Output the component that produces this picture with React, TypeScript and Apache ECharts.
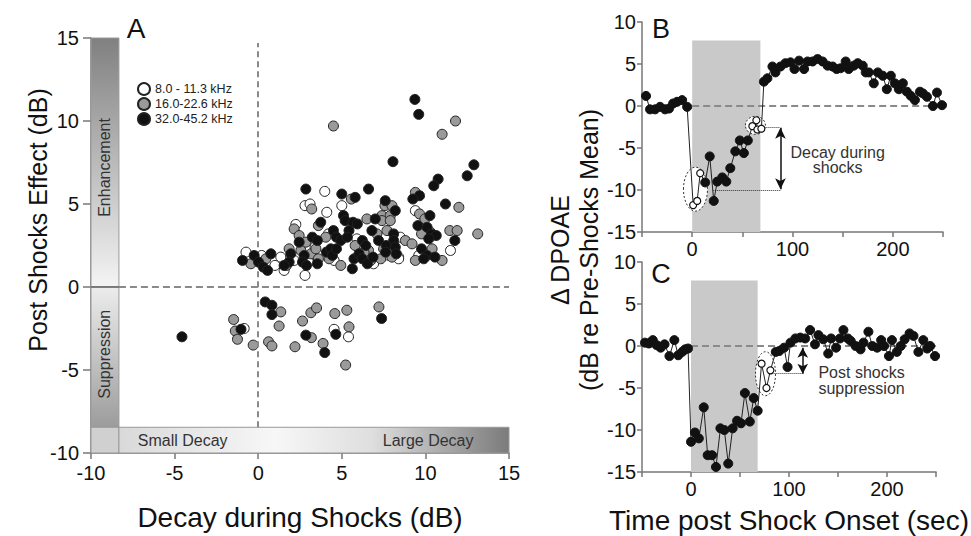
import React, { useEffect, useRef } from 'react';
import * as echarts from 'echarts';

const FONT = "'Liberation Sans', Arial, Helvetica, sans-serif";

// ---------- Panel A data: [decay during shocks (dB), post shocks effect (dB)] ----------
const legendNames = ['8.0 - 11.3 kHz', '16.0-22.6 kHz', '32.0-45.2 kHz'];

const aLow: number[][] = [
  [3.98, 5.76], [2.8, 4.9], [3.1, 5.0], [5.0, 4.9], [4.1, 4.5], [9.4, 4.6], [2.25, 3.77], [8.5, 3.0],
  [8.4, 1.8], [-0.73, 2.1], [1.35, 1.8], [1.55, 1.0], [2.15, 1.6], [3.0, 1.5], [2.8, 0.7], [4.54, 1.6],
  [7.82, 1.9], [8.4, 1.7], [0.2, 1.9], [1.0, 1.3], [3.4, 2.4], [5.9, 2.9], [6.9, 1.4], [9.6, 1.9],
  [10.3, 3.3], [11.5, 2.2], [4.2, 3.2], [-0.84, -2.5], [4.54, -2.55], [5.4, -3.0],
];

const aMid: number[][] = [
  [4.5, 9.7], [11.8, 10.0], [11.0, 9.2], [5.57, 5.3], [3.2, 4.7], [9.4, 5.7], [7.58, 4.9], [8.0, 4.9],
  [12.0, 4.8], [9.65, 4.4], [9.97, 4.1], [6.5, 4.1], [7.4, 4.3], [7.9, 4.3], [7.4, 4.0], [7.9, 4.0],
  [3.6, 3.7], [2.15, 3.5], [11.46, 3.4], [11.9, 3.4], [13.13, 3.2], [7.1, 3.2], [7.7, 3.4], [9.77, 3.2],
  [8.8, 2.8], [9.2, 2.6], [2.45, 3.1], [2.85, 2.7], [4.04, 3.0], [5.8, 2.5], [6.6, 2.2], [7.5, 2.3],
  [7.9, 2.2], [8.0, 1.8], [10.4, 2.3], [9.4, 1.6], [11.0, 1.6], [-0.44, 1.4], [0.46, 1.7], [1.85, 2.3],
  [1.69, 1.3], [2.55, 2.2], [3.15, 2.0], [3.45, 2.3], [3.6, 1.7], [4.24, 1.7], [4.94, 1.3], [6.33, 2.1],
  [6.73, 1.6], [7.33, 1.7], [-1.47, -1.96], [-1.37, -2.65], [-1.24, -3.15], [-0.3, -3.5], [1.35, -1.5],
  [1.25, -2.35], [0.62, -3.3], [0.82, -3.55], [2.2, -3.6], [2.65, -2.05], [3.15, -1.55], [3.49, -1.26],
  [3.18, -3.05], [3.88, -3.4], [4.58, -1.6], [5.3, -1.4], [5.43, -2.4], [5.23, -4.7], [7.22, -1.2],
];

const aHigh: number[][] = [
  [9.37, 11.3], [9.6, 10.4], [8.06, 7.55], [12.9, 7.36], [12.5, 6.7], [10.76, 6.5], [10.5, 6.1],
  [2.85, 5.9], [5.0, 5.6], [5.8, 5.4], [6.6, 5.9], [7.6, 5.2], [9.65, 5.5], [9.25, 5.3], [8.2, 4.6],
  [11.2, 5.0], [10.27, 4.3], [5.1, 4.3], [5.2, 4.0], [7.0, 4.1], [3.74, 3.9], [9.55, 3.7], [10.1, 3.6],
  [11.76, 2.8], [5.67, 3.9], [5.93, 3.8], [5.43, 3.4], [4.5, 3.4], [6.8, 3.4], [8.1, 3.2], [8.1, 2.8],
  [10.37, 3.2], [10.65, 3.1], [10.2, 2.9], [2.45, 2.7], [3.24, 3.0], [3.54, 2.8], [4.68, 3.0],
  [4.94, 2.8], [5.33, 3.0], [6.23, 2.8], [6.43, 2.5], [7.2, 2.8], [7.66, 2.5], [8.2, 2.4], [8.26, 2.0],
  [9.77, 2.3], [10.1, 1.9], [9.9, 1.7], [10.57, 1.8], [-0.94, 1.6], [-0.24, 1.9], [0.02, 1.5],
  [0.3, 1.2], [0.56, 1.0], [0.76, 2.0], [1.95, 2.0], [1.85, 1.5], [1.55, 1.3], [2.75, 1.9], [2.65, 1.5],
  [2.89, 1.3], [3.54, 1.4], [4.08, 2.1], [4.34, 2.3], [4.44, 1.9], [4.68, 2.3], [5.63, 1.1], [5.73, 1.7],
  [6.03, 2.0], [6.23, 1.7], [6.53, 1.4], [6.87, 1.8], [7.62, 2.1], [-4.56, -3.0], [-1.03, -2.55],
  [0.42, -0.9], [0.82, -1.1], [0.82, -1.66], [2.85, -2.9], [3.98, -3.95], [4.64, -2.85], [7.38, -1.9],
];

// ---------- Panel B data: [time (s), ΔDPOAE (dB)] ----------
const bPre: number[][] = [
  [-46, 1.2], [-42, -0.4], [-37, -0.4], [-32, -0.1], [-27, -0.4], [-23, -0.3], [-19, 0.3], [-15, 0.5],
  [-10, 0.7], [-5, -0.1],
];
const bOpenEarly: number[][] = [[1, -11.8], [5, -11.3], [8, -8.0]];
const bShock: number[][] = [
  [13, -9.1], [17.5, -6.0], [21.5, -11.3], [25, -9.0], [30, -8.5], [34, -9.0], [38, -7.4], [43, -5.4],
  [47.5, -4.1], [51.5, -5.6], [55.5, -4.1],
];
const bOpenLate: number[][] = [[60, -2.4], [64, -1.7], [65, -2.8], [69, -2.7]];
const bPost: number[][] = [
  [71.5, 2.9], [75, 3.3], [80, 4.7], [83, 4.0], [88, 4.7], [93, 5.1], [98, 5.2], [102, 4.4], [106.5, 5.4],
  [111.5, 4.4], [115, 5.3], [120, 5.3], [125, 5.6], [130, 5.3], [135, 4.8], [140, 4.7], [144, 4.4],
  [148, 4.5], [153, 5.3], [156, 4.4], [161, 4.8], [165, 5.1], [170, 4.8], [173, 4.0], [176, 4.0],
  [181, 2.7], [185, 4.0], [190, 3.6], [194, 2.0], [198, 3.6], [202, 2.7], [206, 2.0], [210, 2.7],
  [214, 1.7], [218, 1.2], [222, 0.7], [227, 1.7], [230, 1.5], [234, 1.1], [240, 0.0], [244, 1.6],
  [249, 0.1],
];

// ---------- Panel C data ----------
const cPre: number[][] = [
  [-47, 0.4], [-43, 0.3], [-39, 0.7], [-35, 0.1], [-31, -0.2], [-27, 0.2], [-22, -1.2], [-17, 0.7],
  [-13, -1.1], [-9, -0.7], [-6, -0.4], [-3, -0.3],
];
const cShock: number[][] = [
  [0, -11.4], [4, -10.3], [8, -11.0], [13, -7.3], [17, -13.0], [21.5, -13.0], [25.5, -14.4], [30, -9.8],
  [34, -10.0], [38, -14.0], [42.5, -9.8], [47, -8.9], [51, -9.2], [55, -5.6], [60, -9.0], [64, -6.2],
  [68, -7.7],
];
const cOpen: number[][] = [[72, -2.1], [77, -5.0], [81, -2.9]];
const cPost: number[][] = [
  [86.5, -0.7], [90, -0.6], [95, -0.2], [98.5, -2.5], [101.5, 0.4], [106.5, 0.9], [111.5, 1.0],
  [116.5, 0.9], [121.5, 1.9], [126.5, 0.2], [130, 1.3], [135, 0.8], [140, -0.9], [143, 0.9], [148, -0.2],
  [152, 0.9], [155.5, 1.9], [160, 0.9], [163, 0.6], [168, 0.0], [173, -0.4], [176, 0.4], [181, 1.7],
  [185, 0.0], [190, -0.2], [194, 0.7], [197, 0.0], [202, -1.2], [205, 0.7], [210, -0.7], [214, 0.0],
  [218, 0.8], [223, 1.5], [227, 1.2], [232, -0.7], [237, 0.7], [241, -0.3], [244, 0.0], [249, -1.2],
];

// shock period (s) and shaded extent (dB)
const shockStart = 0;
const shockEnd = 68;
const shadeTop = 7.8;

// tick labels
const timeLabels = [0, 100, 200];

const filledStyle = { color: '#111', borderColor: '#111', borderWidth: 1 };
const openStyle = { color: '#ffffff', borderColor: '#111', borderWidth: 1.2 };

function traceData(groups: [number[][], boolean][]) {
  const out: any[] = [];
  groups.forEach(([pts, open]) => {
    pts.forEach((p) => {
      out.push(open ? { value: p, itemStyle: openStyle, symbolSize: 7 } : { value: p });
    });
  });
  return out;
}

const axisLine = { onZero: false, lineStyle: { color: '#777', width: 1.5 } };
const axisLabel = (margin: number) => ({ color: '#111', fontSize: 20, fontFamily: FONT, margin });

function timeAxis(gridIndex: number, withName: boolean) {
  return {
    type: 'value', gridIndex, min: -50, max: 250, interval: 50,
    axisLine, splitLine: { show: false },
    axisTick: { length: 5, lineStyle: { color: '#777', width: 1.5 } },
    axisLabel: {
      ...axisLabel(7),
      formatter: (v: number) => (timeLabels.includes(v) ? String(v) : ''),
    },
    name: withName ? 'Time post Shock Onset (sec)' : '',
    nameLocation: 'middle', nameGap: 34,
    nameTextStyle: { color: '#111', fontSize: 28, fontFamily: FONT },
  };
}
function dpAxis(gridIndex: number) {
  return {
    type: 'value', gridIndex, min: -15, max: 10, interval: 5,
    axisLine, splitLine: { show: false },
    axisTick: { length: 5, lineStyle: { color: '#777', width: 1.5 } },
    axisLabel: axisLabel(6),
  };
}

const dashZero = { color: '#8a8a8a', width: 2, type: [7, 4] as any };

function shadeSeries(xi: number) {
  return {
    type: 'line', xAxisIndex: xi, yAxisIndex: xi, data: [], z: 1, silent: true,
    markArea: {
      silent: true,
      itemStyle: { color: '#c9c9c9' },
      data: [[{ coord: [shockStart, -15] }, { coord: [shockEnd, shadeTop] }]],
    },
  };
}
function zeroSeries(xi: number) {
  return {
    type: 'line', xAxisIndex: xi, yAxisIndex: xi, data: [], z: 2, silent: true,
    markLine: {
      silent: true, symbol: ['none', 'none'], label: { show: false },
      lineStyle: dashZero,
      data: [[{ coord: [shockStart, 0] }, { coord: [250, 0] }]],
    },
  };
}

const dotted = { color: '#333', width: 1, type: 'dotted' as any };
const arrowLine = { color: '#111', width: 1.5, type: 'solid' as any };

const option: any = {
  animation: false,
  textStyle: { fontFamily: FONT },
  grid: [
    { left: 91, top: 38, width: 418, height: 418 },
    { left: 642, top: 22, width: 301, height: 210 },
    { left: 642, top: 262, width: 301, height: 210 },
  ],
  legend: {
    data: legendNames, orient: 'vertical', left: 132, top: 77, itemGap: 1,
    itemWidth: 12, itemHeight: 12, icon: 'circle',
    textStyle: { fontSize: 12.5, fontFamily: FONT, color: '#222', lineHeight: 12 },
  },
  xAxis: [
    {
      type: 'value', gridIndex: 0, min: -10, max: 15, interval: 5,
      axisLine, splitLine: { show: false },
      axisTick: { length: 6, lineStyle: { color: '#777', width: 1.5 } },
      axisLabel: axisLabel(10),
      name: 'Decay during Shocks (dB)', nameLocation: 'middle', nameGap: 50,
      nameTextStyle: { color: '#111', fontSize: 28, fontFamily: FONT },
    },
    timeAxis(1, false),
    timeAxis(2, true),
  ],
  yAxis: [
    {
      type: 'value', gridIndex: 0, min: -10, max: 15, interval: 5,
      axisLine, splitLine: { show: false },
      axisTick: { length: 8, lineStyle: { color: '#777', width: 1.5 } },
      axisLabel: axisLabel(12),
    },
    dpAxis(1),
    dpAxis(2),
  ],
  series: [
    // Panel A decorations
    {
      type: 'line', xAxisIndex: 0, yAxisIndex: 0, data: [], z: 1, silent: true,
      markArea: {
        silent: true,
        data: [
          [{ coord: [-10, 0], itemStyle: { color: new echarts.graphic.LinearGradient(0, 0, 0, 1, [
            { offset: 0, color: '#808080' }, { offset: 1, color: '#f4f4f4' }]), borderColor: '#999', borderWidth: 1 } },
            { coord: [-8.33, 15] }],
          [{ coord: [-10, -8.45], itemStyle: { color: new echarts.graphic.LinearGradient(0, 0, 0, 1, [
            { offset: 0, color: '#ececec' }, { offset: 1, color: '#9c9c9c' }]), borderColor: '#999', borderWidth: 1 } },
            { coord: [-8.33, 0] }],
          [{ coord: [-10, -10], itemStyle: { color: '#d0d0d0', borderColor: '#999', borderWidth: 1 } },
            { coord: [-8.33, -8.45] }],
          [{ coord: [-8.33, -10], itemStyle: { color: new echarts.graphic.LinearGradient(0, 0, 1, 0, [
            { offset: 0, color: '#d9d9d9' }, { offset: 0.4, color: '#f7f7f7' },
            { offset: 0.65, color: '#dedede' }, { offset: 1, color: '#7b7b7b' }]), borderColor: '#999', borderWidth: 1 } },
            { coord: [15, -8.45] }],
        ],
      },
      markLine: {
        silent: true, symbol: ['none', 'none'], label: { show: false },
        data: [
          [{ coord: [0, -8.45], lineStyle: { color: '#8a8a8a', width: 2, type: [6, 4] } }, { coord: [0, 14.7] }],
          [{ coord: [-8.33, 0], lineStyle: { color: '#8a8a8a', width: 2, type: [7, 4] } }, { coord: [15, 0] }],
          [{ coord: [-10, 0], lineStyle: { color: '#666', width: 1.5, type: 'solid' } }, { coord: [-8.33, 0] }],
        ],
      },
    },
    ...[aLow, aMid, aHigh].map((d, i) => ({
      name: legendNames[i], type: 'scatter', xAxisIndex: 0, yAxisIndex: 0, z: 3 + i,
      symbol: 'circle', symbolSize: 10, data: d,
      itemStyle: { color: ['#ffffff', '#9a9a9a', '#111111'][i], borderColor: '#222', borderWidth: 1, opacity: 1 },
    })),
    // Panel B
    shadeSeries(1),
    zeroSeries(1),
    {
      type: 'line', xAxisIndex: 1, yAxisIndex: 1, z: 5, symbol: 'circle', symbolSize: 9,
      data: traceData([[bPre, false], [bOpenEarly, true], [bShock, false], [bOpenLate, true], [bPost, false]]),
      itemStyle: filledStyle, lineStyle: { color: '#222', width: 1 },
      markLine: {
        silent: true, symbol: ['none', 'none'], label: { show: false },
        data: [
          [{ coord: [21, -10], lineStyle: dotted }, { coord: [88, -10] }],
          [{ coord: [70, -2.5], lineStyle: dotted }, { coord: [88, -2.5] }],
          [{ coord: [88, -2.6], symbol: 'arrow', symbolSize: [8, 11], lineStyle: arrowLine },
            { coord: [88, -9.9], symbol: 'arrow', symbolSize: [8, 11] }],
        ],
      },
    },
    // Panel C
    shadeSeries(2),
    zeroSeries(2),
    {
      type: 'line', xAxisIndex: 2, yAxisIndex: 2, z: 5, symbol: 'circle', symbolSize: 9,
      data: traceData([[cPre, false], [cShock, false], [cOpen, true], [cPost, false]]),
      itemStyle: filledStyle, lineStyle: { color: '#222', width: 1 },
      markLine: {
        silent: true, symbol: ['none', 'none'], label: { show: false },
        data: [
          [{ coord: [81, -3.3], lineStyle: dotted }, { coord: [114, -3.3] }],
          [{ coord: [114, -0.2], symbol: 'arrow', symbolSize: [8, 10], lineStyle: arrowLine },
            { coord: [114, -3.3], symbol: 'arrow', symbolSize: [8, 10] }],
        ],
      },
    },
  ],
};

function txt(x: number, y: number, text: string, size: number, opts: any = {}) {
  return {
    type: 'text', x, y, rotation: opts.rotation || 0, z: opts.z || 20,
    style: {
      text, fontSize: size, fontFamily: FONT, fill: opts.fill || '#111',
      textAlign: opts.align || 'center', align: opts.align || 'center',
      textVerticalAlign: 'middle', verticalAlign: 'middle',
    },
  };
}

export default function App() {
  const ref = useRef<HTMLDivElement>(null);
  useEffect(() => {
    document.body.style.margin = '0';
    const chart = echarts.init(ref.current!, undefined, { renderer: 'svg' });
    chart.setOption(option);
    const px = (g: number, v: number[]) => chart.convertToPixel({ gridIndex: g } as any, v) as number[];
    const ell = (g: number, v: number[], rx: number, ry: number) => {
      const p = px(g, v);
      return {
        type: 'ellipse', z: 3, shape: { cx: p[0], cy: p[1], rx, ry },
        style: { fill: '#ffffff', stroke: '#333', lineWidth: 1, lineDash: [2, 2] },
      };
    };
    const enh = px(0, [-9.17, 7.2]);
    const sup = px(0, [-9.17, -4.05]);
    const small = px(0, [-7.2, -9.22]);
    const large = px(0, [7.45, -9.22]);
    const bTxt1 = px(1, [145, -5.5]);
    const bTxt2 = px(1, [145, -7.3]);
    const cTxt1 = px(2, [130, -3.1]);
    const cTxt2 = px(2, [130, -5.0]);
    chart.setOption({
      graphic: [
        txt(enh[0], enh[1], 'Enhancement', 16, { rotation: Math.PI / 2, fill: '#333' }),
        txt(sup[0], sup[1], 'Suppression', 16, { rotation: Math.PI / 2, fill: '#333' }),
        txt(small[0], small[1], 'Small Decay', 16, { align: 'left', fill: '#333' }),
        txt(large[0], large[1], 'Large Decay', 16, { align: 'left', fill: '#333' }),
        txt(136, 28, 'A', 28, { fill: '#111' }),
        txt(661, 29, 'B', 27, { fill: '#111' }),
        txt(661, 274, 'C', 27, { fill: '#111' }),
        ell(1, [3.3, -9.9], 12, 22),
        ell(1, [63, -2.3], 10, 9),
        ell(2, [76, -3.3], 10, 22),
        txt(bTxt1[0], bTxt1[1], 'Decay during', 16, { fill: '#333' }),
        txt(bTxt2[0], bTxt2[1], 'shocks', 16, { fill: '#333' }),
        txt(cTxt1[0], cTxt1[1], 'Post shocks', 16, { align: 'left', fill: '#333' }),
        txt(cTxt2[0], cTxt2[1], 'suppression', 16, { align: 'left', fill: '#333' }),
        txt(38, 220, 'Post Shocks Effect (dB)', 25, { rotation: Math.PI / 2 }),
        txt(560, 250, 'Δ DPOAE', 25, { rotation: Math.PI / 2 }),
        txt(589, 250, '(dB re Pre-Shocks Mean)', 25, { rotation: Math.PI / 2 }),
      ],
    });
    return () => chart.dispose();
  }, []);
  return <div ref={ref} style={{ width: 971, height: 536 }} />;
}
